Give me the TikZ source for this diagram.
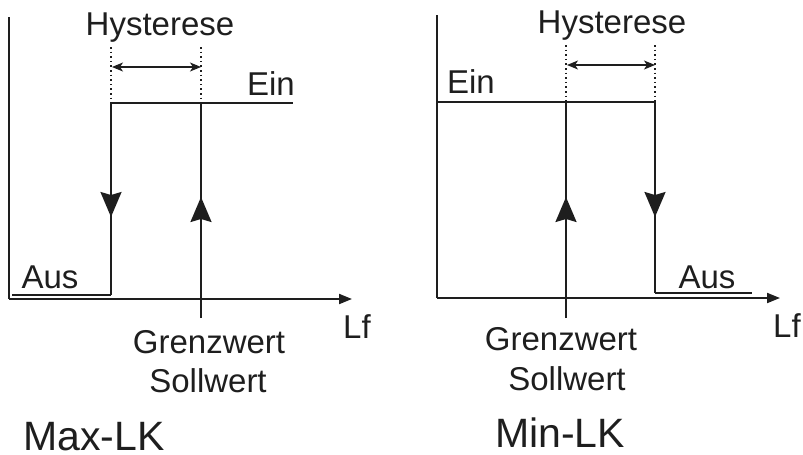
\documentclass[tikz,border=0pt]{standalone}
\usepackage{fontspec}
\setmainfont{Liberation Sans}
\usetikzlibrary{arrows.meta,decorations.markings}

\definecolor{ink}{HTML}{1E1E1E}

\tikzset{
  line/.style={draw=ink, line width=2pt},
  axis/.style={line, -{Triangle[length=13pt,width=10pt]}},
  dots/.style={draw=ink, line width=1.6pt, dash pattern=on 1.6pt off 3pt},
  span/.style={draw=ink, line width=1.6pt, {Stealth[length=11pt,width=9pt,inset=3pt]}-{Stealth[length=11pt,width=9pt,inset=3pt]}},
  flow/.style={line, postaction={decorate}, decoration={markings,
      mark=at position #1 with {\arrow{Stealth[length=25pt,width=21pt,inset=3pt]}}}},
  lbl/.style={text=ink, font=\fontsize{33}{38}\selectfont, anchor=base, inner sep=0pt},
  title/.style={text=ink, font=\fontsize{41}{46}\selectfont, anchor=base, inner sep=0pt},
}

\begin{document}
\begin{tikzpicture}[x=1pt, y=-1pt]
\useasboundingbox (0,0) rectangle (803,455);

% ---------- Max-LK ----------
\coordinate (LO) at (9,299);
\coordinate (LY) at (9,17);
\coordinate (LX) at (352,299);
\coordinate (LA0) at (12,295);
\coordinate (LA1) at (111,295);
\coordinate (LE0) at (111,103);
\coordinate (LE1) at (293,103);
\coordinate (LG0) at (201,318);
\coordinate (LG1) at (201,103);
\coordinate (LD0) at (111,47);
\coordinate (LD1) at (201,47);
\coordinate (LH0) at (112,67);
\coordinate (LH1) at (201,67);

\draw[line] (LY) -- (LO);
\draw[axis] (LO) -- (LX);
\draw[line] (LA0) -- (LA1);
\draw[line] (LE0) -- (LE1);
\draw[flow=114pt] (LE0) -- (LA1);
\draw[flow=121pt] (LG0) -- (LG1);
\draw[dots] (LD0) -- (LE0);
\draw[dots] (LD1) -- (LG1);
\draw[span] (LH0) -- (LH1);

\node[lbl] (lhyst) at (160,35) {Hysterese};
\node[lbl] (lein)  at (271,95) {Ein};
\node[lbl] (laus)  at (50,288) {Aus};
\node[lbl] (llf)   at (357,338) {Lf};
\node[lbl] (lgrenz) at (209,353) {Grenzwert};
\node[lbl] (lsoll)  at (208,392) {Sollwert};
\node[title] (ltitle) at (94,450) {Max-LK};

% ---------- Min-LK ----------
\coordinate (RO) at (437,298);
\coordinate (RY) at (437,15);
\coordinate (RX) at (780,298);
\coordinate (RE0) at (437,102);
\coordinate (RE1) at (655,102);
\coordinate (RA0) at (655,293);
\coordinate (RA1) at (752,293);
\coordinate (RG0) at (566,318);
\coordinate (RG1) at (566,102);
\coordinate (RD0) at (566,45);
\coordinate (RD1) at (655,45);
\coordinate (RH0) at (567,65);
\coordinate (RH1) at (655,65);

\draw[line] (RY) -- (RO);
\draw[axis] (RO) -- (RX);
\draw[line] (RE0) -- (RE1);
\draw[line] (RA0) -- (RA1);
\draw[flow=115pt] (RE1) -- (RA0);
\draw[flow=121pt] (RG0) -- (RG1);
\draw[dots] (RD0) -- (RG1);
\draw[dots] (RD1) -- (RE1);
\draw[span] (RH0) -- (RH1);

\node[lbl] (rhyst) at (612,33) {Hysterese};
\node[lbl] (rein)  at (471,93) {Ein};
\node[lbl] (raus)  at (707,288) {Aus};
\node[lbl] (rlf)   at (787,337) {Lf};
\node[lbl] (rgrenz) at (561,350) {Grenzwert};
\node[lbl] (rsoll)  at (567,390) {Sollwert};
\node[title] (rtitle) at (560,447) {Min-LK};
\end{tikzpicture}
\end{document}
